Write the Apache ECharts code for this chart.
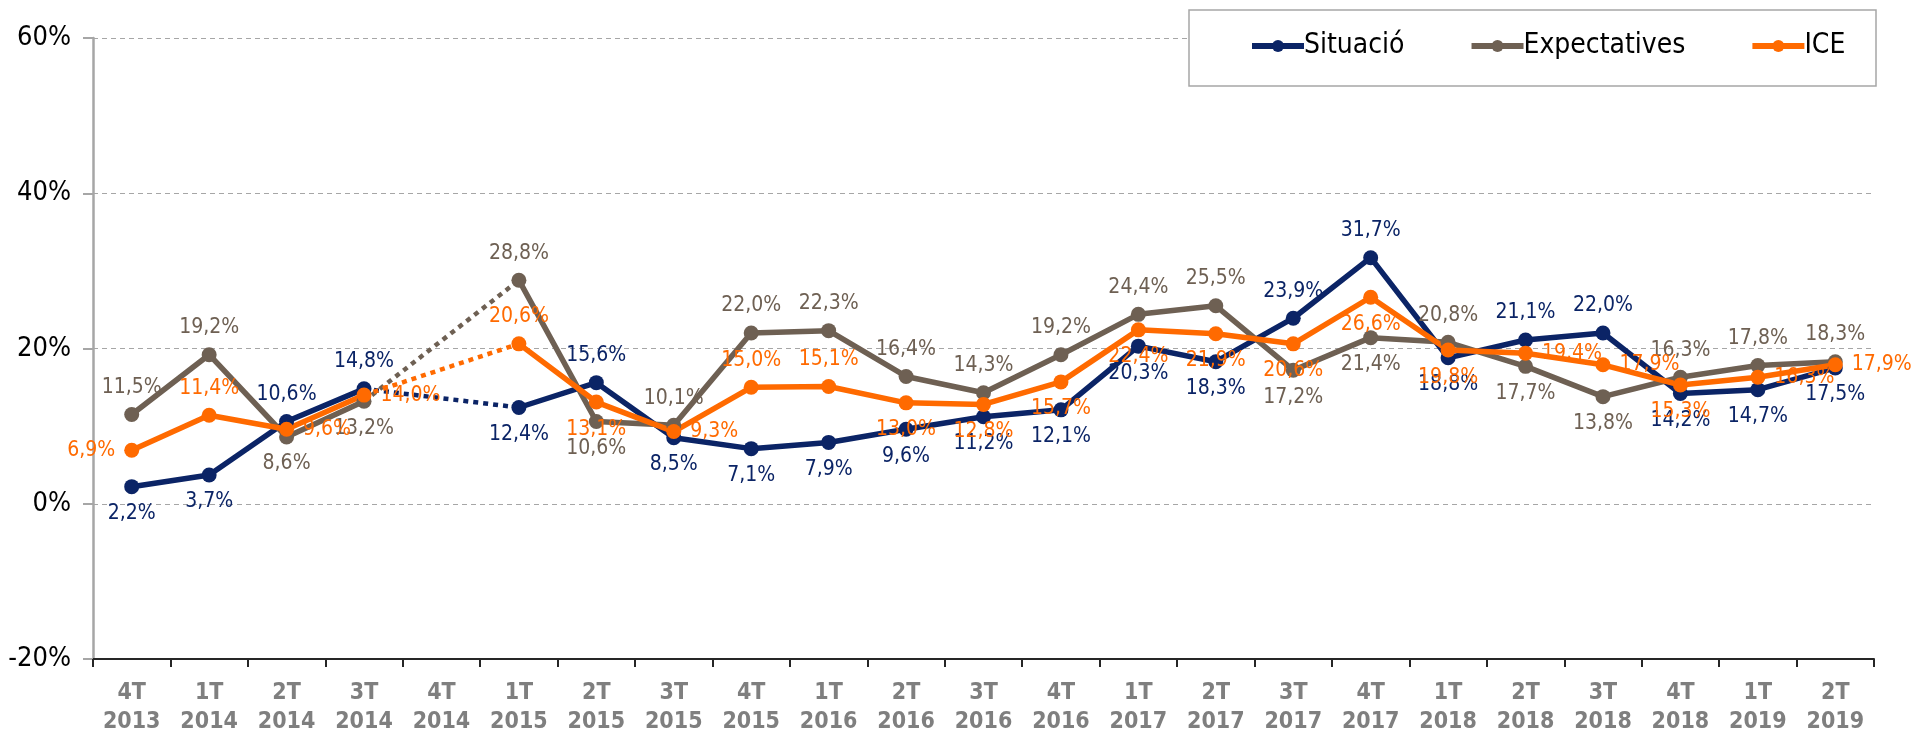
<!DOCTYPE html>
<html>
<head>
<meta charset="utf-8">
<script src="https://cdn.jsdelivr.net/npm/echarts@6/dist/echarts.min.js"></script>
<style>
  html, body { margin: 0; padding: 0; background: #fff; }
  #chart { width: 1920px; height: 732px; }
</style>
</head>
<body>
<div id="chart"></div>
<script>
const categories = ['4T\n2013', '1T\n2014', '2T\n2014', '3T\n2014', '4T\n2014', '1T\n2015', '2T\n2015', '3T\n2015',
    '4T\n2015', '1T\n2016', '2T\n2016', '3T\n2016', '4T\n2016', '1T\n2017', '2T\n2017', '3T\n2017', '4T\n2017',
    '1T\n2018', '2T\n2018', '3T\n2018', '4T\n2018', '1T\n2019', '2T\n2019'];

// 4T 2014 sense dada
const situacio = [2.2, 3.7, 10.6, 14.8, null, 12.4, 15.6, 8.5, 7.1, 7.9, 9.6, 11.2, 12.1, 20.3, 18.3, 23.9, 31.7, 18.8, 21.1, 22.0, 14.2, 14.7, 17.5];
const expectatives = [11.5, 19.2, 8.6, 13.2, null, 28.8, 10.6, 10.1, 22.0, 22.3, 16.4, 14.3, 19.2, 24.4, 25.5, 17.2, 21.4, 20.8, 17.7, 13.8, 16.3, 17.8, 18.3];
const ice = [6.9, 11.4, 9.6, 14.0, null, 20.6, 13.1, 9.3, 15.0, 15.1, 13.0, 12.8, 15.7, 22.4, 21.9, 20.6, 26.6, 19.8, 19.4, 17.9, 15.3, 16.3, 17.9];

// posicio de les etiquetes
const T = 'top', B = 'bottom', L = 'left', R = 'right';
const situacioPos = [B, B, T, T, B, B, T, B, B, B, B, B, B, B, B, T, T, B, T, T, B, B, B];
const expectativesPos = [T, T, B, B, T, T, B, T, T, T, T, T, T, T, T, B, B, T, B, B, T, T, T];
const icePos = [L, T, R, R, T, T, B, R, T, T, B, B, B, B, B, B, B, B, R, R, B, R, R];

const FONT = '"DejaVu Sans Condensed", "Liberation Sans Narrow", "DejaVu Sans", sans-serif';
const COLORS = { sit: '#0B2466', exp: '#6E6053', ice: '#FF6A00' };

const fmt = v => v.toFixed(1).replace('.', ',') + '%';

function mainSeries(name, values, pos, color) {
    return {
        name: name,
        type: 'line',
        connectNulls: false,
        symbol: 'circle',
        symbolSize: 15,
        itemStyle: { color: color },
        lineStyle: { color: color, width: 5.5 },
        data: values.map((v, i) => v == null ? '-' : {
            value: v,
            label: { position: pos[i] }
        }),
        label: {
            show: true,
            color: color,
            fontFamily: FONT,
            fontSize: 21,
            distance: 9,
            formatter: p => fmt(p.value)
        },
        emphasis: { disabled: true },
        animation: false
    };
}

// tram puntejat per sobre del trimestre que falta
function gapSeries(name, values, color) {
    return {
        name: name,
        type: 'line',
        connectNulls: true,
        symbol: 'none',
        lineStyle: { color: color, width: 4.5, type: [5, 5] },
        data: values.map((v, i) => {
            const touchesGap = values[i + 1] === null || values[i - 1] === null;
            return v != null && touchesGap ? v : '-';
        }),
        z: 1,
        silent: true,
        animation: false
    };
}

const chart = echarts.init(document.getElementById('chart'));

chart.setOption({
    backgroundColor: '#fff',
    grid: { left: 93, right: 46, top: 38, bottom: 73, outerBoundsMode: 'none', containLabel: false },
    graphic: [{
        type: 'rect',
        z: 3,
        shape: { x: 1189, y: 10, width: 687, height: 76 },
        style: { fill: '#fff', stroke: '#a6a6a6', lineWidth: 1.5 }
    }],
    legend: {
        left: 1249,
        top: 32,
        z: 5,
        padding: 0,
        itemGap: 64,
        itemWidth: 52,
        itemHeight: 15,
        lineStyle: { width: 6 },
        data: ['Situació', 'Expectatives', 'ICE'],
        textStyle: { fontFamily: FONT, fontSize: 28, color: '#000', padding: [0, 0, 0, -5] }
    },
    xAxis: {
        type: 'category',
        data: categories,
        boundaryGap: true,
        axisLine: { onZero: false, lineStyle: { color: '#262626', width: 2 } },
        axisTick: { show: true, length: 8, lineStyle: { color: '#262626', width: 2 } },
        axisLabel: {
            interval: 0,
            color: '#7F7F7F',
            fontFamily: FONT,
            fontWeight: 'bold',
            fontSize: 23,
            lineHeight: 29,
            margin: 20
        }
    },
    yAxis: {
        type: 'value',
        min: -20,
        max: 60,
        interval: 20,
        axisLine: { show: true, lineStyle: { color: '#a6a6a6', width: 2.5 } },
        axisTick: { show: true, length: 10, lineStyle: { color: '#a6a6a6', width: 2 } },
        splitLine: { lineStyle: { color: '#a6a6a6', type: [5, 4], width: 1.2 } },
        axisLabel: {
            formatter: '{value}%',
            color: '#000',
            fontFamily: FONT,
            fontSize: 27,
            margin: 22
        }
    },
    series: [
        mainSeries('Situació', situacio, situacioPos, COLORS.sit),
        mainSeries('Expectatives', expectatives, expectativesPos, COLORS.exp),
        mainSeries('ICE', ice, icePos, COLORS.ice),
        gapSeries('Situació', situacio, COLORS.sit),
        gapSeries('Expectatives', expectatives, COLORS.exp),
        gapSeries('ICE', ice, COLORS.ice)
    ]
});
</script>
</body>
</html>
